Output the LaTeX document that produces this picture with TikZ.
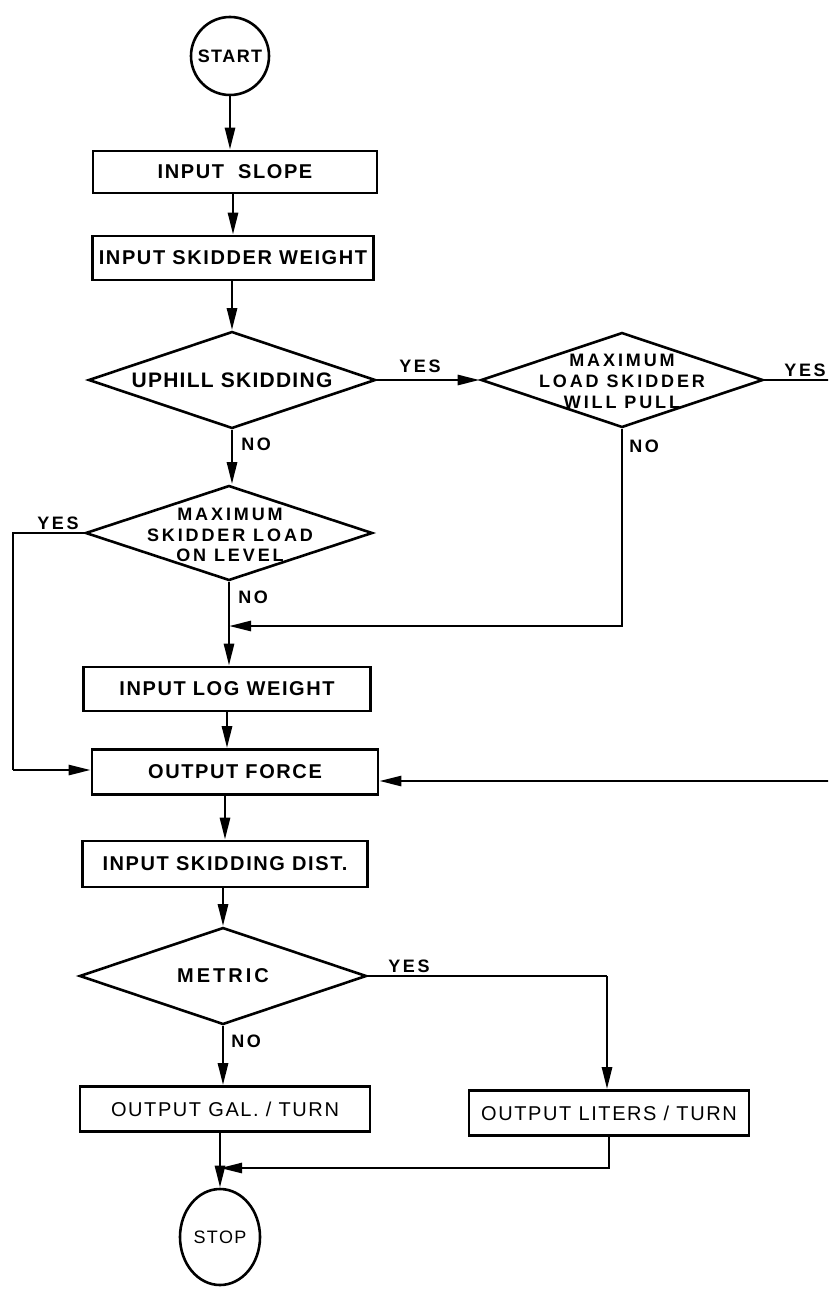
\documentclass[tikz,border=0pt]{standalone}
\usepackage{fontspec}
\setmainfont{Liberation Sans}
\newfontfamily\boxfont[LetterSpace=8]{Liberation Sans}
\newfontfamily\wideboxfont[LetterSpace=16]{Liberation Sans}
\newfontfamily\upfont[LetterSpace=6]{Liberation Sans}
\newfontfamily\lblfont[LetterSpace=15]{Liberation Sans}
\usetikzlibrary{arrows.meta,shapes.geometric,calc}
\begin{document}
\begin{tikzpicture}[x=1pt,y=-1pt,
  line width=2.6pt,
  arr/.style={-{Triangle[length=22pt,width=10pt]}},
  box/.style={draw,rectangle,inner sep=0pt,font=\boxfont\bfseries\fontsize{20}{24}\selectfont},
  thinbox/.style={draw,rectangle,inner sep=0pt,font=\boxfont\fontsize{20}{24}\selectfont},
  dia/.style={draw,diamond,inner sep=0pt},
  dtext/.style={align=center,inner sep=0pt,font=\wideboxfont\bfseries\fontsize{18}{21}\selectfont},
  lbl/.style={font=\lblfont\bfseries\fontsize{18}{20}\selectfont,inner sep=0pt,anchor=base west},
]
\useasboundingbox (0,0) rectangle (828,1292);
\clip (0,0) rectangle (828,1292);

\node[draw,circle,minimum size=78pt,inner sep=0pt,font=\boxfont\bfseries\fontsize{18}{20}\selectfont] (start) at (230,56) {START};
\node[box,minimum width=284pt,minimum height=42pt] (slope) at (235,172) {INPUT\hspace{0.7em}SLOPE\hspace{1.2em}};
\node[box,minimum width=281pt,minimum height=44pt] (weight) at (233,258) {INPUT SKIDDER WEIGHT};

\node[dia,minimum width=287pt,minimum height=97pt] (d1) at (232,380) {};
\node[dtext,font=\upfont\bfseries\fontsize{21}{24}\selectfont] (d1t) at (d1) {UPHILL SKIDDING};

\node[dia,minimum width=282pt,minimum height=95pt] (d2) at (622,380) {};
\node[dtext] (d2t) at (622,381) {MAXIMUM\\LOAD SKIDDER\\WILL PULL};

\node[dia,minimum width=287pt,minimum height=95pt] (d3) at (229,533) {};
\node[dtext,font=\wideboxfont\bfseries\fontsize{18}{20.5}\selectfont] (d3t) at (230,535) {MAXIMUM\\SKIDDER LOAD\\ON LEVEL};

\node[box,minimum width=287pt,minimum height=44pt] (log) at (227,689) {INPUT LOG WEIGHT};
\node[box,minimum width=286pt,minimum height=45pt] (force) at (235,772) {OUTPUT FORCE};
\node[box,minimum width=285pt,minimum height=46pt] (dist) at (225,864) {INPUT SKIDDING DIST.};

\node[dia,minimum width=287pt,minimum height=97pt] (metric) at (223,976) {};
\node[dtext,font=\lblfont\bfseries\fontsize{20}{22}\selectfont] (mt) at (metric) {METRIC};

\node[thinbox,minimum width=290pt,minimum height=45pt] (gal) at (225,1109) {OUTPUT GAL. / TURN};
\node[thinbox,minimum width=280pt,minimum height=45pt] (liters) at (609,1113) {OUTPUT LITERS / TURN};

\node[draw,ellipse,minimum width=80pt,minimum height=96pt,inner sep=0pt,font=\boxfont\fontsize{18}{20}\selectfont] (stop) at (220,1237) {STOP};

\coordinate (m1) at (229,626);
\coordinate (m2) at (220,1168);
\coordinate (rt) at (831,380);
\coordinate (rb) at (831,781);
\coordinate (lt) at (13,533);
\coordinate (lb) at (13,770);
\coordinate (mr) at (607,976);

% connectors
\draw[arr] (start.south) -- (start.south |- slope.north);
\draw[arr] (weight.north |- slope.south) -- (weight.north);
\draw[arr] (d1.north |- weight.south) -- (d1.north);
\draw[arr] (d1.east) -- (d2.west);
\draw (d2.east) -- (rt) -- (rb);
\draw[arr] (rb) -- (force.east |- rb);
\draw[arr] (d2.south) |- (m1);
\draw[arr] (d1.south) -- (d1.south |- d3.north);
\draw (d3.west) -- (lt) -- (lb);
\draw[arr] (lb) -- (force.west |- lb);
\draw[arr] (d3.south) -- (d3.south |- log.north);
\draw[arr] (log.south) -- (log.south |- force.north);
\draw[arr] (dist.north |- force.south) -- (dist.north);
\draw[arr] (metric.north |- dist.south) -- (metric.north);
\draw (metric.east) -- (mr);
\draw[arr] (mr) -- (mr |- liters.north);
\draw[arr] (metric.south) -- (metric.south |- gal.north);
\draw[arr] (stop.north |- gal.south) -- (stop.north);
\draw[arr] (liters.south) |- (m2);

% labels
\node[lbl] (y1) at (398,372) {YES};
\node[lbl] (n1) at (240,450) {NO};
\node[lbl] (y2) at (783,376) {YES};
\node[lbl] (n2) at (628,452) {NO};
\node[lbl] (y3) at (36,529) {YES};
\node[lbl] (n3) at (237,603) {NO};
\node[lbl] (y4) at (387,972) {YES};
\node[lbl] (n4) at (230,1047) {NO};
\end{tikzpicture}
\end{document}
